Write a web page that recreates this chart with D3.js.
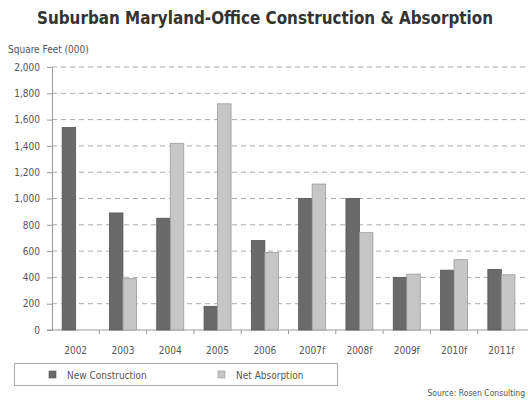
<!DOCTYPE html>
<html>
<head>
<meta charset="utf-8">
<script src="https://cdn.jsdelivr.net/npm/d3@7"></script>
<style>
  body { margin: 0; background: #fff; }
  text { font-family: "Liberation Sans Narrow", "DejaVu Sans Condensed", sans-serif; }
</style>
</head>
<body>
<div id="chart"></div>
<script>
const years = ["2002", "2003", "2004", "2005", "2006", "2007f", "2008f", "2009f", "2010f", "2011f"];
const newConstruction = [1540, 890, 850, 180, 680, 1000, 1000, 400, 455, 460];
const netAbsorption = [0, 390, 1420, 1720, 590, 1110, 740, 425, 535, 420];
const yTicks = [0, 200, 400, 600, 800, 1000, 1200, 1400, 1600, 1800, 2000];
const seriesNames = ["New Construction", "Net Absorption"];

const width = 528, height = 404;
const plot = { left: 52, right: 525, top: 67, bottom: 330 };
const colors = ["#6a6a6a", "#c6c6c6"];
const strokes = ["#555", "#9a9a9a"];

const svg = d3.select("#chart").append("svg")
    .attr("width", width).attr("height", height);

svg.append("text")
    .attr("x", 265).attr("y", 24)
    .attr("text-anchor", "middle")
    .attr("font-size", 18).attr("font-weight", "bold")
    .attr("fill", "#333")
    .attr("textLength", 456).attr("lengthAdjust", "spacingAndGlyphs")
    .text("Suburban Maryland-Office Construction & Absorption");

svg.append("text")
    .attr("x", 8).attr("y", 53)
    .attr("font-size", 10).attr("fill", "#555")
    .text("Square Feet (000)");

const x = d3.scaleBand().domain(years).range([plot.left, plot.right]);
const y = d3.scaleLinear().domain([0, 2000]).range([plot.bottom, plot.top]);

// grid
svg.append("g").selectAll("line")
    .data(yTicks.filter(d => d > 0))
    .join("line")
    .attr("x1", plot.left).attr("x2", width)
    .attr("y1", d => y(d)).attr("y2", d => y(d))
    .attr("stroke", "#aaa").attr("stroke-dasharray", "5,4");

// y axis
const yAxis = svg.append("g")
    .attr("transform", `translate(${plot.left},0)`)
    .call(d3.axisLeft(y).tickValues(yTicks).tickSize(5).tickPadding(7).tickFormat(d3.format(",")));
yAxis.select(".domain").attr("stroke", "#999");
yAxis.selectAll(".tick line").attr("stroke", "#999");
yAxis.selectAll("text").attr("fill", "#555").attr("font-size", 10)
    .style("font-family", '"Liberation Sans Narrow", "DejaVu Sans Condensed", sans-serif');

// x axis
svg.append("line")
    .attr("x1", plot.left - 5).attr("x2", width)
    .attr("y1", plot.bottom).attr("y2", plot.bottom)
    .attr("stroke", "#999");
svg.append("g").selectAll("line")
    .data(years.slice(1))
    .join("line")
    .attr("x1", d => x(d)).attr("x2", d => x(d))
    .attr("y1", plot.bottom).attr("y2", plot.bottom + 4)
    .attr("stroke", "#999");
svg.append("g").selectAll("text")
    .data(years)
    .join("text")
    .attr("x", d => x(d) + x.bandwidth() / 2)
    .attr("y", plot.bottom + 24)
    .attr("text-anchor", "middle")
    .attr("font-size", 10).attr("fill", "#555")
    .text(d => d);

// bars
const inner = d3.scaleBand().domain([0, 1]).range([0, 27]);
const series = [newConstruction, netAbsorption];
series.forEach((vals, si) => {
    svg.append("g").selectAll("rect")
        .data(vals.map((v, i) => ({ year: years[i], v })).filter(d => d.v > 0))
        .join("rect")
        .attr("x", d => x(d.year) + (x.bandwidth() - 27) / 2 + inner(si))
        .attr("y", d => y(d.v))
        .attr("width", inner.bandwidth())
        .attr("height", d => plot.bottom - y(d.v))
        .attr("fill", colors[si])
        .attr("stroke", strokes[si]).attr("stroke-width", 0.8);
});

// legend
svg.append("rect")
    .attr("x", 14.5).attr("y", 363.5).attr("width", 323).attr("height", 22)
    .attr("fill", "none").attr("stroke", "#aaa");
const legendX = [49, 218];
seriesNames.forEach((name, i) => {
    svg.append("rect")
        .attr("x", legendX[i]).attr("y", 371).attr("width", 7).attr("height", 7)
        .attr("fill", colors[i]).attr("stroke", strokes[i]).attr("stroke-width", 0.6);
    svg.append("text")
        .attr("x", legendX[i] + 18).attr("y", 378.5)
        .attr("font-size", 10).attr("fill", "#555")
        .text(name);
});

svg.append("text")
    .attr("x", 525).attr("y", 396)
    .attr("text-anchor", "end")
    .attr("font-size", 8.5).attr("fill", "#555")
    .text("Source: Rosen Consulting");
</script>
</body>
</html>
